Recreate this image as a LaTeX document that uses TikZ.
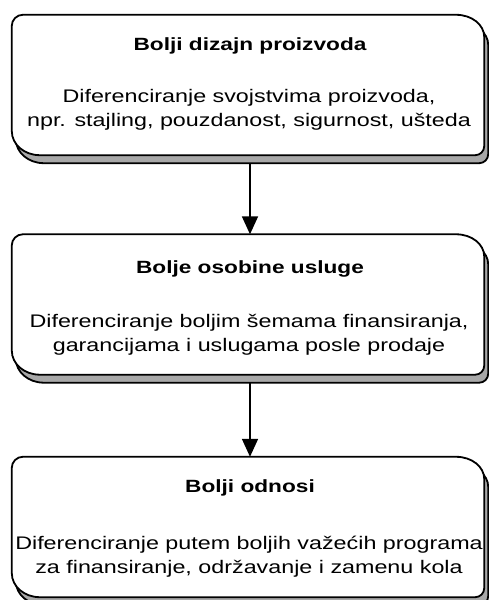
\documentclass[tikz,border=0pt]{standalone}
\usepackage{fontspec}
\setmainfont{Liberation Sans}[FakeStretch=1.28]
\usetikzlibrary{calc,arrows.meta}
\definecolor{shadowgray}{HTML}{A8A8A8}

% Outline of a card: small top-left and bottom-right corners,
% large top-right and bottom-left corners; #1 node, #2 offset
\newcommand\cardoutline[2]{%
  ($(#1.north west)+(#2)+(0,-11pt)$) arc[start angle=180,end angle=90,radius=11pt]
  -- ($(#1.north east)+(#2)+(-28pt,0)$) arc[start angle=90,end angle=0,x radius=28pt,y radius=22pt]
  -- ($(#1.south east)+(#2)+(0,9pt)$) arc[start angle=0,end angle=-90,radius=9pt]
  -- ($(#1.south west)+(#2)+(28pt,0)$) arc[start angle=270,end angle=180,x radius=28pt,y radius=24pt]
  -- cycle}

\tikzset{
  cardbox/.style={minimum width=472pt, minimum height=140pt, inner sep=0pt, draw=none},
  cardline/.style={draw=black, line width=1.8pt},
  titletext/.style={anchor=base, inner sep=0pt, font=\bfseries\fontsize{17.7}{24}\selectfont},
  bodytext/.style={anchor=base, inner sep=0pt, align=center, font=\fontsize{18.2}{24}\selectfont},
  flow/.style={line width=1.8pt, -{Triangle[width=16pt,length=18pt]}}
}

\begin{document}
\begin{tikzpicture}[x=1pt,y=1pt]
  \useasboundingbox[fill=white] (0,0) rectangle (489,600);

  % card frames
  \node[cardbox] (b1) at (248,515) {};
  \node[cardbox] (b2) at (248,295.5) {};
  \node[cardbox] (b3) at (248,73) {};

  \foreach \c in {b1,b2,b3}{
    \filldraw[cardline, fill=shadowgray] \cardoutline{\c}{4pt,-8pt};
    \filldraw[cardline, fill=white] \cardoutline{\c}{0,0};
  }

  % texts (body nodes sit on the baseline of their last line)
  \node[titletext] (t1) at ($(b1.north)+(2pt,-36pt)$) {Bolji dizajn proizvoda};
  \node[bodytext] (d1) at ($(b1.north)+(1pt,-112pt)$)
    {Diferenciranje svojstvima proizvoda,\\npr. stajling, pouzdanost, sigurnost, ušteda};

  \node[titletext] (t2) at ($(b2.north)+(2pt,-39pt)$) {Bolje osobine usluge};
  \node[bodytext] (d2) at ($(b2.north)+(1pt,-117pt)$)
    {Diferenciranje boljim šemama finansiranja,\\garancijama i uslugama posle prodaje};

  \node[titletext] (t3) at ($(b3.north)+(2pt,-36pt)$) {Bolji odnosi};
  \node[bodytext] (d3) at ($(b3.north)+(1pt,-117pt)$)
    {Diferenciranje putem boljih važećih programa\\za finansiranje, održavanje i zamenu kola};

  % connectors
  \draw[flow] ($(b1.south)+(2pt,-8pt)$) -- ($(b2.north)+(2pt,0)$);
  \draw[flow] ($(b2.south)+(2pt,-8pt)$) -- ($(b3.north)+(2pt,0)$);
\end{tikzpicture}
\end{document}
